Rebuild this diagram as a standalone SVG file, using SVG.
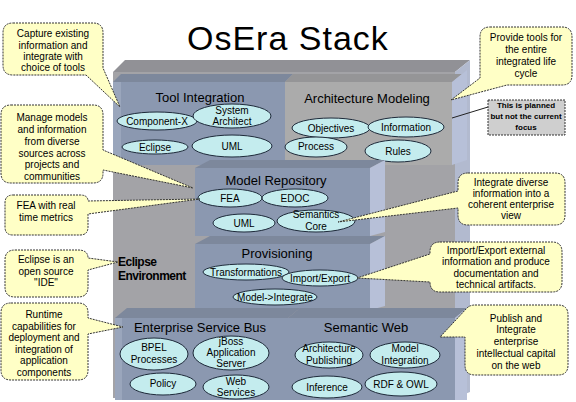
<svg xmlns="http://www.w3.org/2000/svg" width="576" height="402" viewBox="0 0 576 402">
<style>
.title{font-family:"Liberation Sans",Arial,sans-serif;font-size:34px;letter-spacing:1px;fill:#000}
.blk{font-family:"Liberation Sans",Arial,sans-serif;font-size:13px;fill:#000;text-anchor:middle}
.el{fill:#C4ECEE;stroke:#1E2A3A;stroke-width:1}
.et{font-family:"Liberation Sans",Arial,sans-serif;font-size:10px;fill:#000;text-anchor:middle}
.co{fill:#FFFFC6;stroke:#333;stroke-width:1;stroke-dasharray:2,1}
.ct{font-family:"Liberation Sans",Arial,sans-serif;font-size:10px;fill:#000;text-anchor:middle}
.front{fill:#8B98B0}
.frontg{fill:#ABABAB}
.top{fill:#7D889C}
.side{fill:#B7C0D8}
</style>
<rect width="576" height="402" fill="#FFFFFF"/>
<text class="title" x="187" y="50">OsEra Stack</text>

<g id="eclipse-environment">
<polygon points="113,72 455,72 470,60 125,60" fill="#919196"/>
<rect x="113" y="72" width="342" height="326" fill="#A3A3A7"/>
<polygon points="455,72 470,60 470,392 455,398" fill="#B2BACF"/>
<text x="118" y="266" font-family="Liberation Sans,Arial,sans-serif" font-size="12" font-weight="bold" letter-spacing="-0.5">Eclipse</text>
<text x="118" y="280" font-family="Liberation Sans,Arial,sans-serif" font-size="12" font-weight="bold" letter-spacing="-0.5">Environment</text>
</g>

<g id="tool-integration">
<polygon class="top" points="113,82 285,82 293,74 121,74"/>
<rect class="front" x="113" y="82" width="172" height="83"/>
<rect x="113" y="82" width="8" height="83" fill="#9AA6BC"/>
<text class="blk" x="200" y="102">Tool Integration</text>
<ellipse class="el" cx="157" cy="121" rx="40" ry="9"/><text class="et" x="157" y="125">Component-X</text>
<ellipse class="el" cx="232" cy="116" rx="39" ry="12"/><text class="et" x="232" y="114">System</text><text class="et" x="232" y="125">Architect</text>
<ellipse class="el" cx="155" cy="147" rx="33" ry="7"/><text class="et" x="155" y="151">Eclipse</text>
<ellipse class="el" cx="232" cy="146" rx="40" ry="11"/><text class="et" x="232" y="150">UML</text>
</g>

<g id="architecture-modeling">
<polygon points="285,82 452,82 462,74 293,74" fill="#959597"/>
<rect class="frontg" x="285" y="82" width="167" height="83"/>
<polygon class="side" points="452,82 467,70 467,160 452,165"/>
<text class="blk" x="367" y="103">Architecture Modeling</text>
<ellipse class="el" cx="331" cy="128" rx="39" ry="10"/><text class="et" x="331" y="132">Objectives</text>
<ellipse class="el" cx="406" cy="127" rx="38" ry="10"/><text class="et" x="406" y="131">Information</text>
<ellipse class="el" cx="316" cy="147" rx="31" ry="10"/><text class="et" x="316" y="150">Process</text>
<ellipse class="el" cx="398" cy="151" rx="33" ry="11"/><text class="et" x="398" y="155">Rules</text>
</g>

<g id="model-repository">
<polygon class="top" points="195,168 370,168 385,160 210,160"/>
<rect class="front" x="195" y="168" width="175" height="68"/>
<polygon class="side" points="370,168 385,160 385,232 370,236"/>
<text class="blk" x="276" y="185">Model Repository</text>
<ellipse class="el" cx="230" cy="198" rx="32" ry="9"/><text class="et" x="230" y="202">FEA</text>
<ellipse class="el" cx="295" cy="198" rx="33" ry="9"/><text class="et" x="295" y="202">EDOC</text>
<ellipse class="el" cx="244" cy="223" rx="31" ry="9"/><text class="et" x="244" y="227">UML</text>
<ellipse class="el" cx="316" cy="221" rx="39" ry="11"/><text class="et" x="316" y="218">Semantics</text><text class="et" x="316" y="230">Core</text>
</g>

<g id="provisioning">
<polygon class="top" points="195,244 370,244 385,236 210,236"/>
<rect class="front" x="195" y="244" width="175" height="66"/>
<polygon class="side" points="370,244 385,236 385,306 370,310"/>
<text class="blk" x="277" y="258">Provisioning</text>
<ellipse class="el" cx="246" cy="272" rx="43" ry="8"/><text class="et" x="246" y="276">Transformations</text>
<ellipse class="el" cx="320" cy="278" rx="38" ry="8"/><text class="et" x="320" y="282">Import/Export</text>
<ellipse class="el" cx="275" cy="297" rx="42" ry="8"/><text class="et" x="275" y="301">Model-&gt;Integrate</text>
</g>

<g id="enterprise-service-bus">
<polygon class="top" points="115,318 288,318 300,308 127,308"/>
<rect class="front" x="115" y="318" width="173" height="82"/>
<rect x="115" y="318" width="7" height="82" fill="#9AA6BC"/>
<text class="blk" x="200" y="332">Enterprise Service Bus</text>
<ellipse class="el" cx="154" cy="354" rx="34" ry="16"/><text class="et" x="154" y="351">BPEL</text><text class="et" x="154" y="363">Processes</text>
<ellipse class="el" cx="231" cy="353" rx="38" ry="17"/><text class="et" x="231" y="345">jBoss</text><text class="et" x="231" y="356">Application</text><text class="et" x="231" y="367">Server</text>
<ellipse class="el" cx="163" cy="384" rx="33" ry="11"/><text class="et" x="163" y="387">Policy</text>
<ellipse class="el" cx="236" cy="387" rx="33" ry="12"/><text class="et" x="236" y="385">Web</text><text class="et" x="236" y="396">Services</text>
</g>

<g id="semantic-web">
<polygon class="top" points="288,318 455,318 467,308 300,308"/>
<rect class="front" x="288" y="318" width="167" height="82"/>
<polygon class="side" points="455,318 467,308 467,400 455,400"/>
<text class="blk" x="366" y="332">Semantic Web</text>
<ellipse class="el" cx="329" cy="355" rx="34" ry="13"/><text class="et" x="329" y="352">Architecture</text><text class="et" x="329" y="364">Publishing</text>
<ellipse class="el" cx="405" cy="355" rx="35" ry="13"/><text class="et" x="405" y="352">Model</text><text class="et" x="405" y="364">Integration</text>
<ellipse class="el" cx="327" cy="387" rx="35" ry="11"/><text class="et" x="327" y="391">Inference</text>
<ellipse class="el" cx="401" cy="384" rx="36" ry="12"/><text class="et" x="401" y="388">RDF &amp; OWL</text>
</g>

<g id="connectors">
<line x1="488" y1="107" x2="452" y2="118" stroke="#222" stroke-width="1"/>
</g>

<g id="callout-capture">
<path class="co" d="M13,23 H93 Q103,23 103,33 V68 L120,107 L86,75 H13 Q3,75 3,65 V33 Q3,23 13,23 Z"/>
<text class="ct" x="53" y="37">Capture existing</text><text class="ct" x="53" y="49">information and</text><text class="ct" x="53" y="60">integrate with</text><text class="ct" x="53" y="71">choice of tools</text>
</g>
<g id="callout-manage">
<path class="co" d="M11,105 H93 Q103,105 103,115 V150 L193,188 L103,170 V173 Q103,183 93,183 H11 Q1,183 1,173 V115 Q1,105 11,105 Z"/>
<text class="ct" x="52" y="121">Manage models</text><text class="ct" x="52" y="133">and information</text><text class="ct" x="52" y="145">from diverse</text><text class="ct" x="52" y="157">sources across</text><text class="ct" x="52" y="168">projects and</text><text class="ct" x="52" y="180">communities</text>
</g>
<g id="callout-fea">
<path class="co" d="M13,195 H80 Q88,195 88,201 L200,199 L88,214 V227 Q88,235 80,235 H13 Q5,235 5,227 V203 Q5,195 13,195 Z"/>
<text class="ct" x="46" y="209">FEA with real</text><text class="ct" x="46" y="221">time metrics</text>
</g>
<g id="callout-eclipse">
<path class="co" d="M15,250 H78 Q88,250 88,258 L118,262 L88,270 V287 Q88,297 78,297 H15 Q5,297 5,287 V260 Q5,250 15,250 Z"/>
<text class="ct" x="46" y="263">Eclipse is an</text><text class="ct" x="46" y="275">open source</text><text class="ct" x="46" y="286">"IDE"</text>
</g>
<g id="callout-runtime">
<path class="co" d="M11,303 H78 Q88,303 88,313 V318 L123,327 L88,334 V370 Q88,380 78,380 H11 Q1,380 1,370 V313 Q1,303 11,303 Z"/>
<text class="ct" x="44" y="318">Runtime</text><text class="ct" x="44" y="330">capabilities for</text><text class="ct" x="44" y="341">deployment and</text><text class="ct" x="44" y="353">integration of</text><text class="ct" x="44" y="364">application</text><text class="ct" x="44" y="376">components</text>
</g>
<g id="callout-provide">
<path class="co" d="M490,27 H562 Q572,27 572,37 V75 Q572,85 562,85 H507 L451,100 L480,78 V37 Q480,27 490,27 Z"/>
<text class="ct" x="526" y="41">Provide tools for</text><text class="ct" x="526" y="53">the entire</text><text class="ct" x="526" y="65">integrated life</text><text class="ct" x="526" y="77">cycle</text>
</g>
<g id="note-planned">
<rect x="488" y="100" width="77" height="35" fill="#CFCFCF" stroke="#333" stroke-width="1" stroke-dasharray="2,1"/>
<text x="526" y="108" font-family="Liberation Sans,Arial,sans-serif" font-size="8" font-weight="bold" text-anchor="middle">This is planned</text>
<text x="526" y="119" font-family="Liberation Sans,Arial,sans-serif" font-size="8" font-weight="bold" text-anchor="middle">but not the current</text>
<text x="526" y="130" font-family="Liberation Sans,Arial,sans-serif" font-size="8" font-weight="bold" text-anchor="middle">focus</text>
</g>
<g id="callout-integrate">
<path class="co" d="M468,173 H555 Q565,173 565,183 V215 Q565,225 555,225 H468 Q458,225 458,215 V208 L338,222 L458,191 V183 Q458,173 468,173 Z"/>
<text class="ct" x="511" y="186">Integrate diverse</text><text class="ct" x="511" y="197">information into a</text><text class="ct" x="511" y="208">coherent enterprise</text><text class="ct" x="511" y="219">view</text>
</g>
<g id="callout-import">
<path class="co" d="M440,242 H552 Q562,242 562,252 V282 Q562,292 552,292 H440 Q430,292 430,282 L357,278 L430,254 V252 Q430,242 440,242 Z"/>
<text class="ct" x="496" y="254">Import/Export external</text><text class="ct" x="496" y="265">information and produce</text><text class="ct" x="496" y="277">documentation and</text><text class="ct" x="496" y="288">technical artifacts.</text>
</g>
<g id="callout-publish">
<path class="co" d="M475,305 H558 Q568,305 568,315 V365 Q568,375 558,375 H475 Q465,375 465,365 V337 L440,337 L467,308 Q470,305 475,305 Z"/>
<text class="ct" x="516" y="322">Publish and</text><text class="ct" x="516" y="333">Integrate</text><text class="ct" x="516" y="345">enterprise</text><text class="ct" x="516" y="357">intellectual capital</text><text class="ct" x="516" y="369">on the web</text>
</g>
</svg>
